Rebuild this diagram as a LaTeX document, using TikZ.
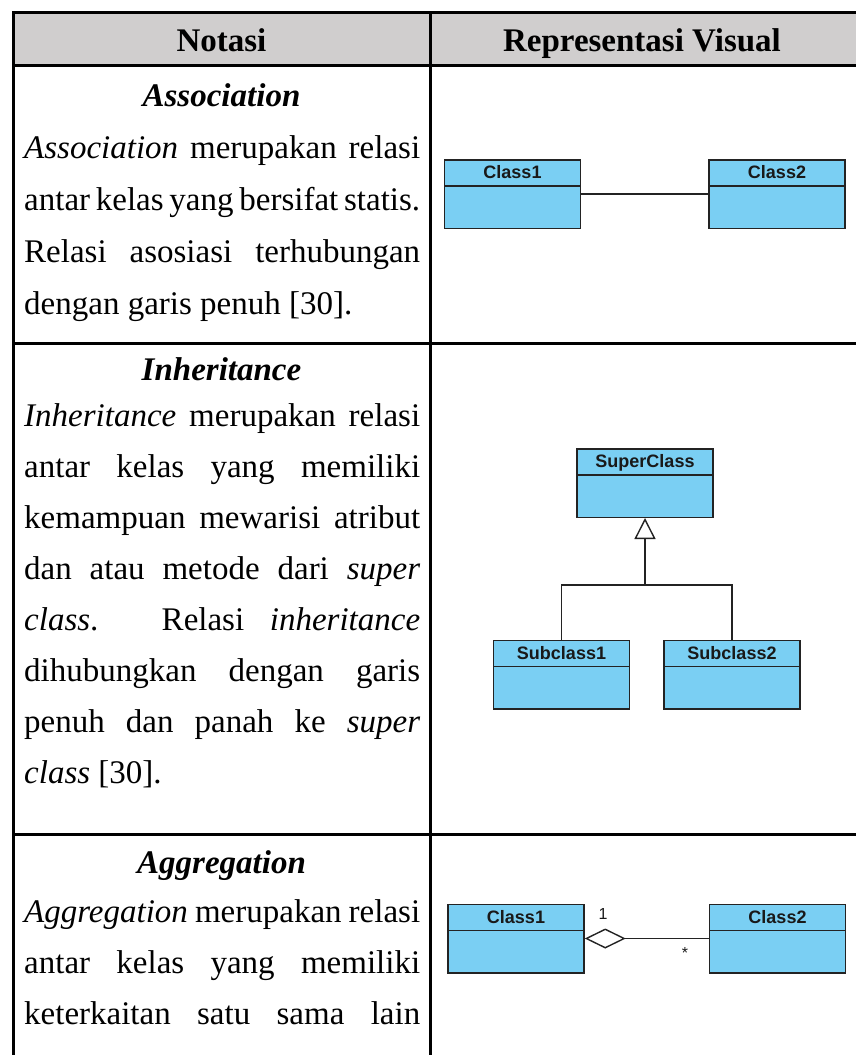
\documentclass[tikz,border=0pt]{standalone}
\usepackage{fontspec}
\setmainfont{Liberation Serif}
\newfontfamily\umlfont{Liberation Sans}
\usetikzlibrary{positioning,arrows.meta}

\definecolor{headgray}{RGB}{208,206,206}
\definecolor{umlblue}{RGB}{122,207,243}
\definecolor{umlline}{RGB}{35,35,35}
\definecolor{umltext}{RGB}{25,25,25}
\newcommand{\justline}[1]{\makebox[396pt][s]{#1}}

\begin{document}
\begin{tikzpicture}[x=1pt, y=-1pt,
    node distance=127pt,
    every node/.style={inner sep=0pt, font=\fontsize{33}{40}\selectfont},
    textline/.style={anchor=base west},
    headtext/.style={anchor=base, font=\fontsize{33}{40}\selectfont\bfseries},
    rowtitle/.style={anchor=base, font=\fontsize{33}{40}\selectfont\bfseries\itshape},
    grid/.style={line width=3pt, black},
    link/.style={draw=umlline, line width=1.4pt},
    mult/.style={font=\umlfont\fontsize{16}{18}\selectfont, text=umltext},
    umlclass/.style={draw=umlline, fill=umlblue, line width=1.5pt, minimum width=136pt,
      inner xsep=0pt, inner ysep=6.5pt, text height=12.5pt, text depth=43pt,
      font=\umlfont\fontsize{18}{20}\selectfont\bfseries, text=umltext,
      path picture={\draw[umlline, line width=1.5pt]
        ([yshift=-26pt]path picture bounding box.north west) --
        ([yshift=-26pt]path picture bounding box.north east);}}
  ]
  \useasboundingbox (0,0) rectangle (855,1055);

  % Table
  \fill[headgray] (13,12) rectangle (870,65);
  \draw[grid] (870,12) -- (13,12) -- (13,1070);
  \draw[grid] (430,12) -- (430,1070);
  \draw[grid] (13,65) -- (870,65);
  \draw[grid] (13,343) -- (870,343);
  \draw[grid] (13,834) -- (870,834);

  \node[headtext] (hnotasi) at (221.5,51) {Notasi};
  \node[headtext] (hvisual) at (642,51) {Representasi Visual};

  % Association
  \node[rowtitle] (asctitle) at (221.5,106) {Association};
  \node[textline] (asc1) at (24,158) {\justline{\textit{Association} merupakan relasi}};
  \node[textline] (asc2) at (24,210) {\justline{antar kelas yang bersifat statis.}};
  \node[textline] (asc3) at (24,262) {\justline{Relasi asosiasi terhubungan}};
  \node[textline] (asc4) at (24,314) {dengan garis penuh [30].};

  \node[umlclass] (ascA) at (512.5,194) {Class1};
  \node[umlclass, right=of ascA] (ascB) {Class2};
  \draw[link] (ascA) -- (ascB);

  % Inheritance
  \node[rowtitle] (inhtitle) at (221.5,380) {Inheritance};
  \node[textline] (inh1) at (24,426) {\justline{\textit{Inheritance} merupakan relasi}};
  \node[textline] (inh2) at (24,477) {\justline{antar kelas yang memiliki}};
  \node[textline] (inh3) at (24,528) {\justline{kemampuan mewarisi atribut}};
  \node[textline] (inh4) at (24,579) {\justline{dan atau metode dari \textit{super}}};
  \node[textline] (inh5) at (24,630) {\justline{\textit{class}. Relasi \textit{inheritance}}};
  \node[textline] (inh6) at (24,681) {\justline{dihubungkan dengan garis}};
  \node[textline] (inh7) at (24,732) {\justline{penuh dan panah ke \textit{super}}};
  \node[textline] (inh8) at (24,783) {\textit{class} [30].};

  \node[umlclass] (super) at (645,483) {SuperClass};
  \node[umlclass] (sub1) at (561.5,674.5) {Subclass1};
  \node[umlclass, right=33pt of sub1] (sub2) {Subclass2};
  \coordinate (junc) at (645,585);
  \draw[link] (sub1.north) |- (junc) -| (sub2.north);
  \draw[link, -{Triangle[open, length=21pt, width=21pt]}] (junc) -- (super.south);

  % Aggregation
  \node[rowtitle] (aggtitle) at (221.5,873) {Aggregation};
  \node[textline] (agg1) at (24,922) {\justline{\textit{Aggregation} merupakan relasi}};
  \node[textline] (agg2) at (24,973) {\justline{antar kelas yang memiliki}};
  \node[textline] (agg3) at (24,1024) {\justline{keterkaitan satu sama lain}};

  \node[umlclass] (aggA) at (516,938.5) {Class1};
  \node[umlclass, right=124pt of aggA] (aggB) {Class2};
  \draw[link, {Diamond[open, length=41pt, width=20pt]}-] (aggA) -- (aggB);
  \node[mult] (one) at (603,914) {1};
  \node[mult] (many) at (685,953) {*};
\end{tikzpicture}
\end{document}
